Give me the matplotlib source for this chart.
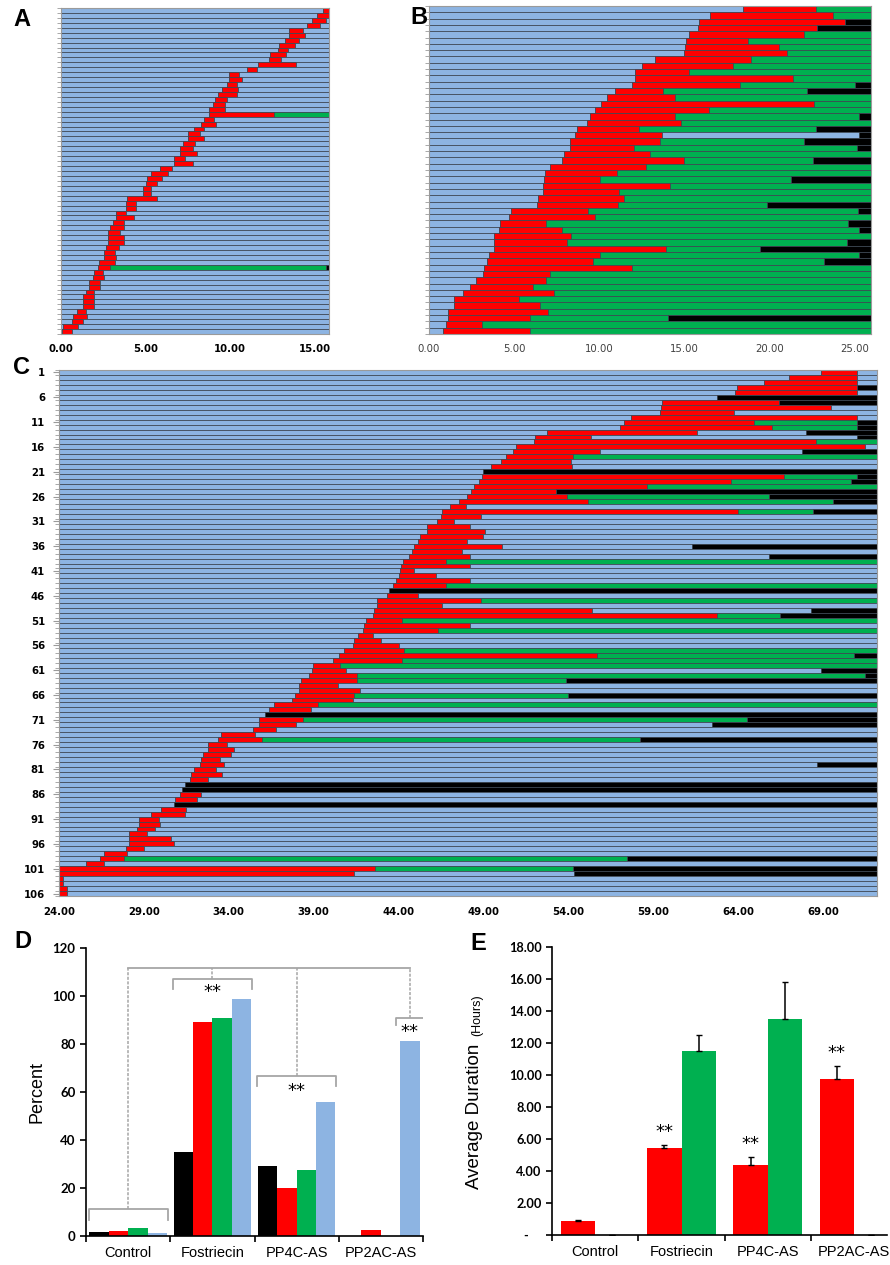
import numpy as np
import matplotlib.pyplot as plt

# phase code -> colour (b: before/after mitosis, r: mitosis, g: arrest, k: death)
PHASE = {'b': '#8DB4E2', 'r': '#FF0000', 'g': '#00B050', 'k': '#000000'}
EDGE = '#3C4652'

# ---- A: each cell = phases with the time (h) each one ends; last runs to end ----
A_end = 15.85
A_ticks = [0, 5, 10, 15]
A_cells = [
    "b15.49 r", "b15.16 r", "b14.84 r15.65 b", "b14.55 r15.33 b", "b13.48 r14.31 b",
    "b13.48 r14.41 b", "b13.25 r14.07 b", "b12.89 r13.82 b", "b12.83 r13.43 b",
    "b12.38 r13.33 b", "b12.30 r13.03 b", "b11.65 r13.92 b", "b10.98 r11.57 b",
    "b9.94 r10.53 b", "b9.94 r10.73 b", "b9.82 r10.39 b", "b9.55 r10.47 b",
    "b9.29 r10.39 b", "b9.13 r9.82 b", "b8.96 r9.70 b", "b8.76 r9.70 b",
    "b8.76 r12.58 g", "b8.44 r9.02 b", "b8.29 r9.15 b", "b7.85 r8.44 b",
    "b7.52 r8.21 b", "b7.52 r8.44 b", "b7.19 r7.95 b", "b7.05 r7.78 b",
    "b7.05 r8.05 b", "b6.69 r7.36 b", "b6.69 r7.78 b", "b5.87 r6.59 b",
    "b5.33 r6.34 b", "b5.08 r6.00 b", "b5.00 r5.69 b", "b4.86 r5.35 b",
    "b4.86 r5.35 b", "b3.90 r5.69 b", "b3.82 r4.43 b", "b3.82 r4.43 b",
    "b3.23 r3.82 b", "b3.23 r4.29 b", "b3.09 r3.70 b", "b2.89 r3.70 b",
    "b2.76 r3.50 b", "b2.76 r3.70 b", "b2.76 r3.70 b", "b2.66 r3.43 b",
    "b2.56 r3.17 b", "b2.56 r3.23 b", "b2.26 r3.17 b", "b2.17 r2.89 g15.65 k",
    "b1.97 r2.50 b", "b1.91 r2.56 b", "b1.65 r2.32 b", "b1.65 r2.32 b",
    "b1.46 r1.97 b", "b1.32 r1.97 b", "b1.32 r1.97 b", "b1.32 r1.97 b",
    "b0.93 r1.46 b", "b0.73 r1.56 b", "b0.67 r1.32 b", "b0.14 r1.02 b",
    "b0.06 r0.65 b",
]

# ---- B ----
B_end = 25.94
B_ticks = [0, 5, 10, 15, 20, 25]
B_cells = [
    "b18.44 r22.69 g", "b16.50 r23.69 g", "b15.86 r24.41 k", "b15.80 r22.77 k",
    "b15.27 r22.02 g", "b15.11 r18.70 g", "b15.04 r20.52 g", "b14.94 r21.03 g",
    "b13.25 r18.87 g", "b12.51 r17.85 g", "b12.10 r15.27 g", "b12.10 r21.38 g",
    "b11.94 r18.27 g25.00 k", "b10.94 r13.76 g22.18 k", "b10.43 r14.43 g",
    "b10.10 r22.61 g", "b9.77 r16.44 g", "b9.44 r14.43 g25.25 k", "b9.28 r14.76 g",
    "b8.67 r12.35 g22.69 k", "b8.59 r13.70 b25.25 k", "b8.26 r13.55 g22.02 k",
    "b8.26 r12.02 g25.10 k", "b7.93 r12.98 g", "b7.83 r14.94 g22.51 k",
    "b7.09 r12.76 g", "b6.83 r11.02 g", "b6.75 r10.02 g21.26 k", "b6.68 r14.17 g",
    "b6.68 r11.18 g", "b6.42 r11.43 g", "b6.32 r11.10 g19.85 k",
    "b4.84 r9.36 g25.18 k", "b4.68 r9.77 g", "b4.17 r6.85 g24.61 k",
    "b4.09 r7.83 g25.25 k", "b3.84 r8.34 g", "b3.84 r8.09 g24.51 k",
    "b3.84 r13.92 g19.44 k", "b3.50 r10.02 g25.25 k", "b3.43 r9.61 g23.18 k",
    "b3.25 r11.94 g", "b3.17 r7.11 g", "b2.76 r6.85 g", "b2.43 r6.11 g",
    "b2.00 r7.36 g", "b1.47 r5.27 g", "b1.47 r6.52 g", "b1.14 r7.01 g",
    "b1.14 r5.93 g14.02 k", "b0.98 r3.09 g", "b0.80 r5.93 g",
]

# ---- C ----
C_start = 24.0
C_end = 72.16
C_ticks = [24, 29, 34, 39, 44, 49, 54, 59, 64, 69]
C_cells = [
    "b68.88 r71.00 b", "b67.00 r71.00 b", "b65.48 r71.00 b", "b63.91 r71.00 k",
    "b63.79 r71.00 b", "b62.73 k", "b59.53 r66.41 k", "b59.45 r69.43 b",
    "b59.39 r63.72 b", "b57.70 r71.00 b", "b57.29 r64.89 g70.98 k",
    "b57.04 r65.97 g70.98 k", "b52.75 r61.55 b67.98 k", "b52.05 r55.31 b70.98 k",
    "b51.95 r68.59 g", "b50.89 r71.47 b", "b50.71 r55.88 b67.74 k",
    "b50.34 r54.29 g", "b50.00 r54.15 b", "b49.42 r54.21 b", "b48.98 k",
    "b48.92 r66.68 g70.98 k", "b48.75 r63.58 g70.65 k", "b48.41 r58.61 g",
    "b48.26 r53.25 k", "b48.00 r53.93 g65.80 k", "b47.55 r55.17 g69.55 k",
    "b47.02 r47.96 b", "b46.57 r63.97 g68.37 k", "b46.49 r48.85 b",
    "b46.23 r47.24 b", "b45.64 r48.18 b", "b45.64 r49.08 b", "b45.25 r48.94 b",
    "b45.15 r48.00 b", "b44.88 r50.10 b61.28 k", "b44.80 r47.75 b",
    "b44.58 r48.18 b65.82 k", "b44.27 r46.76 g", "b44.15 r48.18 b",
    "b44.07 r44.92 b", "b43.99 r46.17 b", "b43.82 r48.18 b", "b43.68 r46.76 g",
    "b43.40 k", "b43.32 r45.15 b", "b42.74 r48.85 g", "b42.74 r46.53 b",
    "b42.56 r55.37 b68.29 k", "b42.46 r62.73 g66.47 k", "b42.05 r44.17 g",
    "b41.97 r48.18 b", "b41.91 r46.29 g", "b41.62 r42.50 b", "b41.36 r42.95 b",
    "b41.32 r44.03 b", "b40.79 r44.33 g", "b40.48 r55.70 g70.81 k",
    "b40.14 r44.17 g", "b38.96 r40.55 g", "b38.92 r40.87 b68.84 k",
    "b38.73 r41.56 g71.47 k", "b38.24 r41.56 g53.84 k", "b38.14 r40.40 b",
    "b38.14 r41.71 b", "b37.88 r41.38 g53.97 k", "b37.71 r41.32 b",
    "b36.63 r39.22 g", "b36.37 r38.81 b", "b36.12 k", "b35.78 r38.34 g64.50 k",
    "b35.78 r37.98 b62.46 k", "b35.45 r36.80 b", "b33.52 r35.55 b",
    "b33.37 r35.98 g58.18 k", "b32.76 r33.90 b", "b32.76 r34.29 b",
    "b32.50 r34.15 b", "b32.36 r33.46 b", "b32.29 r33.70 b68.63 k",
    "b31.95 r33.27 b", "b31.77 r33.62 b", "b31.70 r32.80 b", "b31.44 k",
    "b31.24 k", "b31.11 r32.38 b", "b30.85 r32.13 b", "b30.77 k",
    "b30.01 r31.50 b", "b29.40 r31.40 b", "b28.69 r29.87 b", "b28.69 r29.97 b",
    "b28.59 r29.67 b", "b28.12 r29.18 b", "b28.12 r30.62 b", "b28.12 r30.77 b",
    "b27.92 r29.01 b", "b26.65 r28.00 b", "b26.39 r27.83 g57.45 k",
    "b25.61 r26.65 b", "r42.58 g54.27 k", "r41.36 b54.35 k", "r24.23 b",
    "r24.23 b", "r24.49 b", "r24.49 b",
]

# ---- D: percent of cells ----
groups = ['Control', 'Fostriecin', 'PP4C-AS', 'PP2AC-AS']
D_black = [1.5, 35.2, 29.3, 0.0]
D_red = [1.9, 89.1, 20.0, 2.5]
D_green = [3.2, 91.0, 27.4, 0.0]
D_blue = [1.4, 98.6, 55.8, 81.1]

# ---- E: average duration (h) ----
E_red = [0.85, 5.41, 4.37, 9.76]
E_red_err = [0.09, 0.20, 0.48, 0.79]
E_green = [0.0, 11.51, 13.53, 0.0]
E_green_err = [0.0, 0.98, 2.27, 0.0]
E_sig = ['', '**', '**', '**']

W, H = 890, 1265
fig = plt.figure(figsize=(W / 100, H / 100), dpi=100)


def add_ax(l, t, r, b):
    return fig.add_axes([l / W, 1 - b / H, (r - l) / W, (b - t) / H])


def draw_cells(ax, cells, t0, t1):
    for i, cell in enumerate(cells):
        left = t0
        for tok in cell.split():
            right = float(tok[1:]) if len(tok) > 1 else t1
            ax.barh(i, right - left, left=left, height=1.0, color=PHASE[tok[0]],
                    edgecolor=EDGE, linewidth=0.55)
            left = right
    n = len(cells)
    ax.set_xlim(t0, t1)
    ax.set_ylim(n - 0.5, -0.5)
    ax.set_yticks(np.arange(n + 1) - 0.5, minor=True)
    ax.tick_params(axis='y', which='minor', length=3, color='#9a9a9a', width=0.6)
    for s in ax.spines.values():
        s.set_color('#9a9a9a')
        s.set_linewidth(0.8)


axA = add_ax(61, 8, 329, 334)
draw_cells(axA, A_cells, 0, A_end)
axA.set_yticks([])
axA.set_xticks(A_ticks)
axA.set_xticklabels([f"{t:.2f}" for t in A_ticks], fontsize=7.3, fontweight='bold')
axA.tick_params(axis='x', length=0, pad=7)

axB = add_ax(429, 6, 871, 334)
draw_cells(axB, B_cells, 0, B_end)
axB.set_yticks([])
axB.set_xticks(B_ticks)
axB.set_xticklabels([f"{t:.2f}" for t in B_ticks], fontsize=7.3, color='#404040')
axB.tick_params(axis='x', length=0, pad=7)

axC = add_ax(59, 370, 877, 896)
draw_cells(axC, C_cells, C_start, C_end)
rows = np.arange(0, len(C_cells), 5)
axC.set_yticks(rows)
axC.set_yticklabels([str(r + 1) for r in rows], fontsize=7.3, fontweight='bold')
axC.tick_params(axis='y', which='major', length=4, color='#9a9a9a', pad=6)
axC.set_xticks(C_ticks)
axC.set_xticklabels([f"{t:.2f}" for t in C_ticks], fontsize=7.3, fontweight='bold')
axC.tick_params(axis='x', length=0, pad=8)

# ---- D ----
axD = add_ax(86, 948, 423, 1236)
x = np.arange(len(groups))
bw = 0.23
for k, (vals, c) in enumerate(zip([D_black, D_red, D_green, D_blue],
                                  [PHASE['k'], PHASE['r'], PHASE['g'], PHASE['b']])):
    axD.bar(x + (k - 1.5) * bw, vals, width=bw, color=c)
axD.set_xlim(-0.5, 3.5)
axD.set_ylim(0, 120)
axD.set_yticks(np.arange(0, 121, 20))
axD.set_yticklabels([str(v) for v in range(0, 121, 20)], family='Lato',
                    fontweight='bold', fontsize=9.5)
axD.set_xticks(np.arange(-0.5, 3.6, 1.0))
axD.set_xticklabels([])
axD.set_xticks(x, minor=True)
axD.set_xticklabels(groups, minor=True, family='Liberation Sans', fontsize=10.5)
axD.tick_params(axis='x', which='minor', length=0, pad=7)
axD.tick_params(axis='x', which='major', length=4, width=1.2)
axD.tick_params(axis='y', length=4, width=1.2)
for s in ['top', 'right']:
    axD.spines[s].set_visible(False)
for s in ['left', 'bottom']:
    axD.spines[s].set_linewidth(1.2)
axD.set_ylabel('Percent', family='Liberation Sans', fontsize=13, labelpad=5)

# significance brackets
gray = '#A6A6A6'
top = 111.7
br_centers = [0.0, 1.0, 2.0, 3.345]
br_half = [0.47, 0.47, 0.47, 0.165]
br_level = [11.1, 107.2, 66.8, 90.8]
br_leg = [4.4, 4.2, 4.5, 2.8]
axD.plot([br_centers[0], br_centers[-1]], [top, top], color=gray, lw=1.3)
for cx, hw, lv, lg in zip(br_centers, br_half, br_level, br_leg):
    axD.plot([cx - hw, cx - hw, cx + hw, cx + hw], [lv - lg, lv, lv, lv - lg],
             color=gray, lw=1.3)
    axD.plot([cx, cx], [lv, top], color=gray, lw=1.1, ls=(0, (2, 1)))
for cx, lv, lab in zip(br_centers[1:], [101.5, 60.5, 85.0], ['**', '**', '**']):
    axD.text(cx, lv, lab, ha='center', va='center', fontsize=13, family='DejaVu Sans')

# ---- E ----
axE = add_ax(552, 947, 887, 1235)
xe = np.arange(len(groups))
ew = 0.4
axE.bar(xe + 0.3, E_red, width=ew, color=PHASE['r'],
        yerr=[np.zeros(4), E_red_err], error_kw=dict(ecolor='black', lw=1.1, capsize=2))
axE.bar(xe + 0.7, E_green, width=ew, color=PHASE['g'],
        yerr=[np.zeros(4), E_green_err], error_kw=dict(ecolor='black', lw=1.1, capsize=2))
for xi, v, e, s in zip(xe, E_red, E_red_err, E_sig):
    if s:
        axE.text(xi + 0.3, v + e + 0.25, s, ha='center', va='bottom', fontsize=13)
axE.set_xlim(0, 3.88)
axE.set_ylim(0, 18)
axE.set_yticks(np.arange(0, 19, 2))
axE.set_yticklabels(['-    '] + [f"{v:.2f}" for v in range(2, 19, 2)], family='Lato',
                    fontweight='bold', fontsize=9.2)
axE.set_xticks(np.arange(0, 4))
axE.set_xticklabels([])
axE.set_xticks(xe + 0.5, minor=True)
axE.set_xticklabels(groups, minor=True, family='Liberation Sans', fontsize=10.5)
axE.tick_params(axis='x', which='minor', length=0, pad=7)
axE.tick_params(axis='x', which='major', length=4, width=1.2)
axE.tick_params(axis='y', length=4, width=1.2)
for s in ['top', 'right']:
    axE.spines[s].set_visible(False)
for s in ['left', 'bottom']:
    axE.spines[s].set_linewidth(1.2)
fig.text(474 / W, 1 - 1189 / H, 'Average Duration', rotation=90, ha='center', va='bottom',
         family='Liberation Sans', fontsize=13.5)
fig.text(477 / W, 1 - 1036 / H, '(Hours)', rotation=90, ha='center', va='bottom',
         family='Liberation Sans', fontsize=9)

# panel letters
for lab, px, py in [('A', 22, 20), ('B', 419, 18), ('C', 21, 368), ('D', 23, 942), ('E', 478, 943)]:
    fig.text(px / W, 1 - py / H, lab, ha='center', va='center', fontsize=17,
             fontweight='bold', family='Liberation Sans')

fig.savefig('out.png', dpi=100)
